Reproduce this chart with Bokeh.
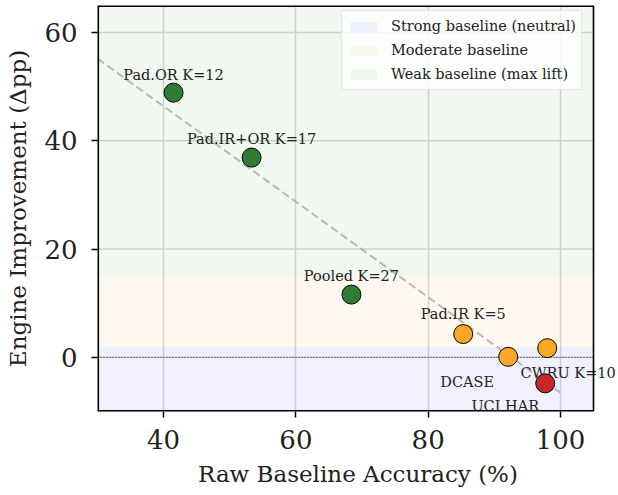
import numpy as np
from bokeh.plotting import figure
from bokeh.models import ColumnDataSource, Range1d, Legend, LegendItem, FixedTicker
from bokeh.core.properties import value
from bokeh.embed import file_html
from bokeh.resources import INLINE

# ---- data ----
names = ["Pad.OR K=12", "Pad.IR+OR K=17", "Pooled K=27", "Pad.IR K=5", "DCASE", "CWRU K=10", "UCI HAR"]
baseline_acc = [41.5, 53.3, 68.4, 85.3, 92.1, 98.0, 97.7]
improvement = [48.9, 36.9, 11.6, 4.3, 0.1, 1.7, -4.8]
tier = ["weak", "weak", "weak", "moderate", "moderate", "moderate", "strong"]

band_labels = ["Strong baseline (neutral)", "Moderate baseline", "Weak baseline (max lift)"]
band_bottom = [-10, 2, 15]
band_top = [2, 15, 65]

x_lim = [30, 105]
y_lim = [-10, 65]
x_ticks = [40, 60, 80, 100]
y_ticks = [0, 20, 40, 60]

# ---- styling ----
FONT = "DejaVu Serif"
GRID = "#d8d8d8"
tier_color = {"weak": "#2e7d32", "moderate": "#f9a825", "strong": "#c62828"}
band_colors = ["#0000ff", "#ff8c00", "#008000"]
label_dx = [0, 0, 0, 0, -41, 21, -40]
label_dy = [18, 19, 19, 20, -25, -25, -23]   # pixels, up is positive

W, H = 618, 495
LEFT, RIGHT_BOX, TOP, BOTTOM = 97, 593, 5, 84
# the frame is extended to the canvas right edge so that labels can spill past the box
px_per_unit = (RIGHT_BOX - LEFT) / (x_lim[1] - x_lim[0])
x_end = x_lim[1] + (W - RIGHT_BOX) / px_per_unit

p = figure(width=W, height=H, output_backend="svg", toolbar_location=None,
           x_range=Range1d(x_lim[0], x_end), y_range=Range1d(y_lim[0], y_lim[1]),
           min_border_left=LEFT, min_border_right=0, min_border_top=TOP, min_border_bottom=BOTTOM)

# horizontal grid lines limited to the axes box
p.segment(x0=[x_lim[0]] * len(y_ticks), x1=[x_lim[1]] * len(y_ticks), y0=y_ticks, y1=y_ticks,
          line_color=GRID, line_width=1.5)

# bands
band_renderers = []
for lab, b, t, c in zip(band_labels, band_bottom, band_top, band_colors):
    r = p.quad(left=[x_lim[0]], right=[x_lim[1]], bottom=[b], top=[t],
               fill_color=c, fill_alpha=0.06, line_color=None)
    band_renderers.append((lab, r))

# trend line from linear fit of the data
coef = np.polyfit(baseline_acc, improvement, 1)
trend_x = np.array([x_lim[0], 100.0])
p.line(trend_x, np.polyval(coef, trend_x), line_color="#9e9e9e", line_alpha=0.7,
       line_width=2, line_dash="8 4")

# zero line
p.line(x_lim, [0, 0], line_color="black", line_width=0.9, line_dash="1 2")

src = ColumnDataSource(dict(x=baseline_acc, y=improvement, name=names,
                            color=[tier_color[t] for t in tier],
                            dx=label_dx, dy=[-d for d in label_dy]))

# point labels beneath markers
p.text("x", "y", text="name", source=src, x_offset="dx", y_offset="dy",
       text_align="center", text_baseline="alphabetic",
       text_font=value(FONT), text_font_size="14.5px", text_color="#222222")

p.scatter("x", "y", source=src, size=19, fill_color="color", line_color="black", line_width=1)

# box around the axes area
p.segment(x0=[x_lim[0], x_lim[0]], y0=[y_lim[0], y_lim[1]], x1=[x_lim[1], x_lim[1]], y1=[y_lim[0], y_lim[1]],
          line_color="black", line_width=3.2)
p.segment(x0=[x_lim[0]], y0=[y_lim[0]], x1=[x_lim[0]], y1=[y_lim[1]], line_color="black", line_width=3.2)
p.segment(x0=[x_lim[1]], y0=[y_lim[0]], x1=[x_lim[1]], y1=[y_lim[1]], line_color="black", line_width=1.6)

legend = Legend(items=[LegendItem(label=l, renderers=[r]) for l, r in band_renderers],
                location=(244, 321))
legend.label_text_font = FONT
legend.label_text_font_size = "14.5px"
legend.label_text_color = "#222222"
legend.glyph_width = 33
legend.glyph_height = 13
legend.label_standoff = 11
legend.label_height = 20
legend.spacing = 4
legend.padding = 5
legend.border_line_color = "#cccccc"
legend.border_line_width = 1.5
legend.background_fill_alpha = 0.8
p.add_layout(legend)

# axes
p.xaxis.axis_label = "Raw Baseline Accuracy (%)"
p.yaxis.axis_label = "Engine Improvement (Δpp)"
p.xaxis.ticker = FixedTicker(ticks=x_ticks)
p.yaxis.ticker = FixedTicker(ticks=y_ticks)
for ax in [p.xaxis, p.yaxis]:
    ax.axis_label_text_font = FONT
    ax.axis_label_text_font_size = "23px"
    ax.axis_label_text_font_style = "normal"
    ax.axis_label_text_color = "#222222"
    ax.major_label_text_font = FONT
    ax.major_label_text_font_size = "26px"
    ax.major_label_text_color = "#222222"
    ax.major_tick_out = 6
    ax.major_tick_in = 0
    ax.major_tick_line_width = 1.5
    ax.minor_tick_line_color = None
    ax.axis_line_color = None
p.xaxis.major_label_standoff = 12
p.xaxis.axis_label_standoff = 9
p.yaxis.major_label_standoff = 14
p.yaxis.axis_label_standoff = 10

p.xgrid.grid_line_color = GRID
p.xgrid.grid_line_width = 1.5
p.ygrid.grid_line_color = None
p.outline_line_color = None

open("out.html", "w").write(file_html(p, INLINE))
